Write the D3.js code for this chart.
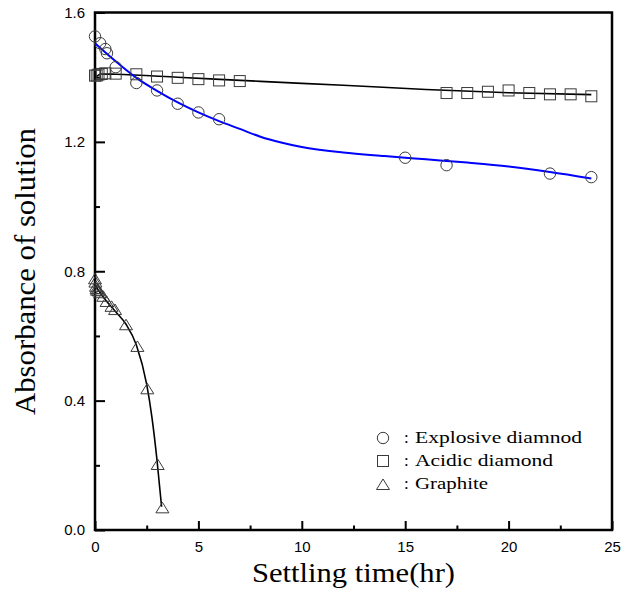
<!DOCTYPE html>
<html>
<head>
<meta charset="utf-8">
<script src="https://cdn.jsdelivr.net/npm/d3@7"></script>
<style>
  body { margin: 0; background: #fff; }
  svg { display: block; }
  .tick text { font-family: "Liberation Sans", Arial, sans-serif; font-size: 15px; fill: #000; }
  .tick line { stroke: #000; stroke-width: 2; }
  .domain { display: none; }
</style>
</head>
<body>
<div id="container"></div>
<script>
// measured data (hr, absorbance)
var explosiveX = [0, 0.25, 0.5, 0.58, 1, 2, 3, 4, 5, 6, 15, 17, 22, 24];
var explosiveY = [1.526, 1.505, 1.487, 1.474, 1.431, 1.382, 1.359, 1.318, 1.291, 1.270, 1.151, 1.128, 1.102, 1.091];
var explosiveFitX = [0, 1, 2, 3, 4, 5, 6, 7, 8, 9, 10, 12, 14, 16, 18, 20, 22, 24];
var explosiveFitY = [1.505, 1.449, 1.398, 1.358, 1.322, 1.291, 1.264, 1.240, 1.216, 1.198, 1.184, 1.167, 1.156, 1.146, 1.136, 1.124, 1.107, 1.087];

var acidicX = [0, 0.08, 0.17, 0.33, 0.5, 1, 2, 3, 4, 5, 6, 7, 17, 18, 19, 20, 21, 22, 23, 24];
var acidicY = [1.405, 1.405, 1.408, 1.41, 1.412, 1.411, 1.409, 1.402, 1.398, 1.394, 1.39, 1.388, 1.351, 1.351, 1.355, 1.359, 1.351, 1.347, 1.347, 1.341];
var acidicFitX = [0, 0.3, 1, 4, 8, 12, 16, 20, 24];
var acidicFitY = [1.398, 1.41, 1.409, 1.400, 1.387, 1.375, 1.362, 1.352, 1.346];

var graphiteX = [0, 0.02, 0.05, 0.08, 0.1, 0.17, 0.25, 0.4, 0.56, 0.8, 0.97, 1.5, 2.05, 2.53, 3.03, 3.26];
var graphiteY = [0.775, 0.765, 0.752, 0.745, 0.74, 0.738, 0.732, 0.721, 0.705, 0.69, 0.68, 0.633, 0.566, 0.435, 0.201, 0.067];
var graphiteFitX = [0, 0.5, 1, 1.5, 2, 2.5, 2.75, 3, 3.22];
var graphiteFitY = [0.757, 0.712, 0.675, 0.636, 0.572, 0.45, 0.35, 0.215, 0.072];

var xMajor = [0, 5, 10, 15, 20, 25], xMinor = [2.5, 7.5, 12.5, 17.5, 22.5];
var yMajor = [0, 0.4, 0.8, 1.2, 1.6], yMinor = [0.2, 0.6, 1.0, 1.4];
var legendLabels = ["Explosive diamnod", "Acidic diamond", "Graphite"];

var width = 636, height = 593;
// plot box (don't call it "top", that one belongs to window)
var pLeft = 95, pRight = 612, pTop = 12.5, pBottom = 530;

var svg = d3.select("#container").append("svg")
  .attr("width", width).attr("height", height);

var x = d3.scaleLinear().domain([0, 25]).range([pLeft, pRight]),
  y = d3.scaleLinear().domain([0, 1.6]).range([pBottom, pTop]);

function zip(a, b){ return a.map(function(v, i){ return [v, b[i]]; }); }

// axes, ticks point inward
svg.append("g").attr("transform", "translate(0," + pBottom + ")")
  .call(d3.axisBottom(x).tickValues(xMajor).tickSize(-9).tickPadding(11)
    .tickFormat(d3.format("d")));
svg.append("g").attr("transform", "translate(0," + pBottom + ")")
  .call(d3.axisBottom(x).tickValues(xMinor).tickSize(-4.5).tickFormat(""));
svg.append("g").attr("transform", "translate(" + pLeft + ",0)")
  .call(d3.axisLeft(y).tickValues(yMajor).tickSize(-10).tickPadding(10)
    .tickFormat(d3.format(".1f")));
svg.append("g").attr("transform", "translate(" + pLeft + ",0)")
  .call(d3.axisLeft(y).tickValues(yMinor).tickSize(-5).tickFormat(""));

svg.append("rect").attr("x", pLeft).attr("y", pTop)
  .attr("width", pRight - pLeft).attr("height", pBottom - pTop)
  .attr("fill", "none").attr("stroke", "#000").attr("stroke-width", 2.5);

// fitted lines
var line = d3.line().x(function(d){ return x(d[0]); }).y(function(d){ return y(d[1]); })
  .curve(d3.curveMonotoneX);
svg.append("path").datum(zip(acidicFitX, acidicFitY)).attr("d", line)
  .attr("fill", "none").attr("stroke", "#000").attr("stroke-width", 1.6);
svg.append("path").datum(zip(graphiteFitX, graphiteFitY)).attr("d", line)
  .attr("fill", "none").attr("stroke", "#000").attr("stroke-width", 1.6);
svg.append("path").datum(zip(explosiveFitX, explosiveFitY)).attr("d", line)
  .attr("fill", "none").attr("stroke", "#0000ff").attr("stroke-width", 2);

var mk = "#3a3a3a";
function circles(g, data){
  g.selectAll(null).data(data).enter().append("circle")
    .attr("cx", function(d){ return x(d[0]); }).attr("cy", function(d){ return y(d[1]); })
    .attr("r", 5.7).attr("fill", "none").attr("stroke", mk).attr("stroke-width", 1);
}
function squares(g, data){
  g.selectAll(null).data(data).enter().append("rect")
    .attr("x", function(d){ return x(d[0]) - 5.5; }).attr("y", function(d){ return y(d[1]) - 5.5; })
    .attr("width", 11).attr("height", 11)
    .attr("fill", "none").attr("stroke", mk).attr("stroke-width", 1);
}
function triangles(g, data){
  g.selectAll(null).data(data).enter().append("path")
    .attr("d", function(d){
      var cx = x(d[0]), cy = y(d[1]);
      return "M" + cx + "," + (cy - 6) + "L" + (cx + 6.5) + "," + (cy + 4.5) + "L" + (cx - 6.5) + "," + (cy + 4.5) + "Z";
    })
    .attr("fill", "none").attr("stroke", mk).attr("stroke-width", 1);
}
var marks = svg.append("g");
circles(marks, zip(explosiveX, explosiveY));
squares(marks, zip(acidicX, acidicY));
triangles(marks, zip(graphiteX, graphiteY));

// legend
var lg = svg.append("g");
var lgY = [438, 461, 484];
circles(lg, [[x.invert(383), y.invert(lgY[0])]]);
squares(lg, [[x.invert(383), y.invert(lgY[1])]]);
triangles(lg, [[x.invert(383), y.invert(lgY[2] + 1)]]);
var lgLen = [167, 138, 73];
legendLabels.forEach(function(t, i){
  lg.append("text").attr("x", 404).attr("y", lgY[i] + 5)
    .style("font-family", "'Liberation Serif', 'Times New Roman', serif").style("font-size", "17px")
    .text(":");
  lg.append("text").attr("x", 415).attr("y", lgY[i] + 5)
    .attr("textLength", lgLen[i]).attr("lengthAdjust", "spacingAndGlyphs")
    .style("font-family", "'Liberation Serif', 'Times New Roman', serif").style("font-size", "17px")
    .text(t);
});

// titles
svg.append("text").attr("x", 252).attr("y", 582)
  .attr("textLength", 203).attr("lengthAdjust", "spacingAndGlyphs")
  .style("font-family", "'Liberation Serif', 'Times New Roman', serif").style("font-size", "28px")
  .text("Settling time(hr)");
svg.append("text").attr("transform", "translate(35,415) rotate(-90)")
  .attr("textLength", 287).attr("lengthAdjust", "spacingAndGlyphs")
  .style("font-family", "'Liberation Serif', 'Times New Roman', serif").style("font-size", "29px")
  .text("Absorbance of solution");
</script>
</body>
</html>
